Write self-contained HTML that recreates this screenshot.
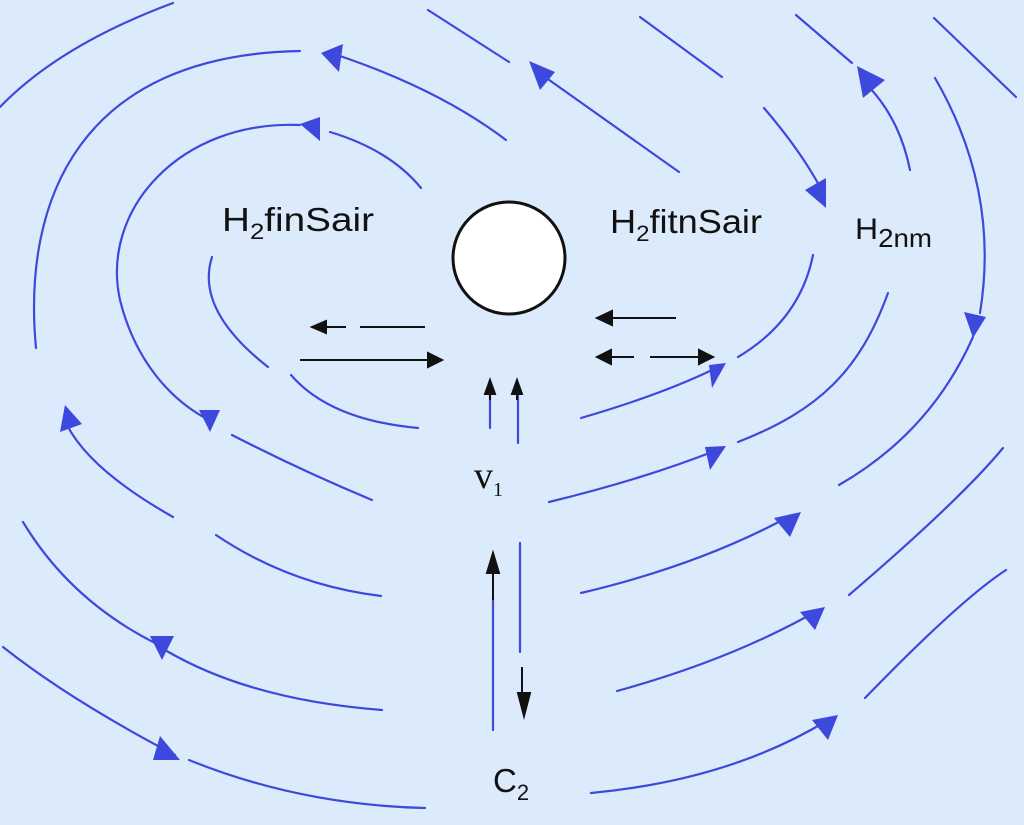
<!DOCTYPE html>
<html><head><meta charset="utf-8"><style>
html,body{margin:0;padding:0;background:#dcebfb;}
svg{display:block}
text{font-family:"Liberation Sans",sans-serif;fill:#111}
</style></head><body>
<svg width="1024" height="825" viewBox="0 0 1024 825" xmlns="http://www.w3.org/2000/svg">
<rect width="1024" height="825" fill="#dcebfb"/>
<g fill="none" stroke="#3d48dc" stroke-width="2.2" stroke-linecap="round">
<path d="M173,3 Q60,45 0,107"/>
<path d="M36,348 C22,200 80,55 300,51"/>
<path d="M340,56 Q440,90 506,140"/>
<path d="M428,10 L509,62"/>
<path d="M545,77 L679,172"/>
<path d="M640,17 L722,77"/>
<path d="M764,108 Q800,150 820,187"/>
<path d="M796,15 L852,63"/>
<path d="M869,87 Q900,120 910,170"/>
<path d="M934,18 L1016,97"/>
<path d="M935,78 Q1000,190 980,313"/>
<path d="M973,337 C945,400 900,450 839,485"/>
<path d="M300,125 C180,120 100,210 120,300 C135,360 170,400 209,420"/>
<path d="M330,132 Q390,150 421,188"/>
<path d="M212,257 Q195,310 268,367"/>
<path d="M291,375 Q330,420 418,428"/>
<path d="M232,435 Q300,470 372,500"/>
<path d="M813,255 Q800,320 738,357"/>
<path d="M581,418 Q660,395 712,370"/>
<path d="M888,293 C860,370 820,410 738,442"/>
<path d="M549,502 Q640,480 712,452"/>
<path d="M67,425 Q90,470 173,517"/>
<path d="M23,522 Q70,600 155,643"/>
<path d="M165,650 Q250,700 382,710"/>
<path d="M3,647 Q70,700 175,755"/>
<path d="M189,760 Q300,805 425,808"/>
<path d="M216,535 Q290,585 381,596"/>
<path d="M581,593 Q700,565 790,516"/>
<path d="M849,595 Q960,500 1003,448"/>
<path d="M617,691 Q730,660 815,612"/>
<path d="M865,698 Q960,600 1006,570"/>
<path d="M591,793 Q730,780 828,720"/>
<path d="M490,395 L490,428"/>
<path d="M518,395 L518,443"/>
<path d="M493,598 L493,730"/>
<path d="M520,543 L520,652"/>
</g>
<g fill="#3d48dc">
<polygon points="321,53 343,44 339,72"/>
<polygon points="300,124 320,117 320,141"/>
<polygon points="529,61 555,72 540,90"/>
<polygon points="826,208 805,190 826,178"/>
<polygon points="857,66 863,98 885,80"/>
<polygon points="973,338 964,312 986,317"/>
<polygon points="210,432 199,410 220,410"/>
<polygon points="726,363 709,365 712,388"/>
<polygon points="726,446 705,447 710,470"/>
<polygon points="65,405 60,432 82,424"/>
<polygon points="150,636 162,660 174,636"/>
<polygon points="180,760 153,760 160,736"/>
<polygon points="801,512 774,518 790,537"/>
<polygon points="825,607 800,612 815,630"/>
<polygon points="838,715 812,720 828,740"/>
</g>
<g stroke="#111" stroke-width="2" fill="#111">
<line x1="490" y1="384" x2="490" y2="400"/><polygon points="490,380 485,394 495,394"/>
<line x1="517" y1="384" x2="517" y2="400"/><polygon points="517,380 512,394 522,394"/>
<line x1="493" y1="560" x2="493" y2="600"/><polygon points="493,553 487,573 499,573"/>
<line x1="522" y1="667" x2="522" y2="700"/><polygon points="524,716 518,693 530,693"/>
<line x1="325" y1="327" x2="346" y2="327"/><polygon points="312,327 326,321 326,333"/>
<line x1="360" y1="327" x2="425" y2="327"/>
<line x1="300" y1="360" x2="430" y2="360"/><polygon points="442,360 428,353 428,367"/>
<line x1="610" y1="318" x2="676" y2="318"/><polygon points="597,318 612,311 612,325"/>
<line x1="610" y1="357" x2="634" y2="357"/><polygon points="597,357 611,350 611,364"/>
<line x1="650" y1="357" x2="700" y2="357"/><polygon points="713,357 699,350 699,364"/>
</g>
<circle cx="509" cy="258" r="56" fill="#fff" stroke="#111" stroke-width="3"/>
<text x="222" y="231" font-size="33" textLength="152" lengthAdjust="spacingAndGlyphs">H<tspan font-size="22" dy="8">2</tspan><tspan dy="-8">finSair</tspan></text>
<text x="610" y="233" font-size="33" textLength="152" lengthAdjust="spacingAndGlyphs">H<tspan font-size="22" dy="8">2</tspan><tspan dy="-8">fitnSair</tspan></text>
<text x="855" y="239" font-size="30" textLength="77" lengthAdjust="spacingAndGlyphs">H<tspan font-size="26" dy="8">2nm</tspan></text>
<text x="474" y="488" font-size="38" style="font-family:'Liberation Serif',serif">v<tspan font-size="20" dy="8">1</tspan></text>
<text x="493" y="792" font-size="33">C<tspan font-size="22" dy="8">2</tspan></text>
</svg>
</body></html>
